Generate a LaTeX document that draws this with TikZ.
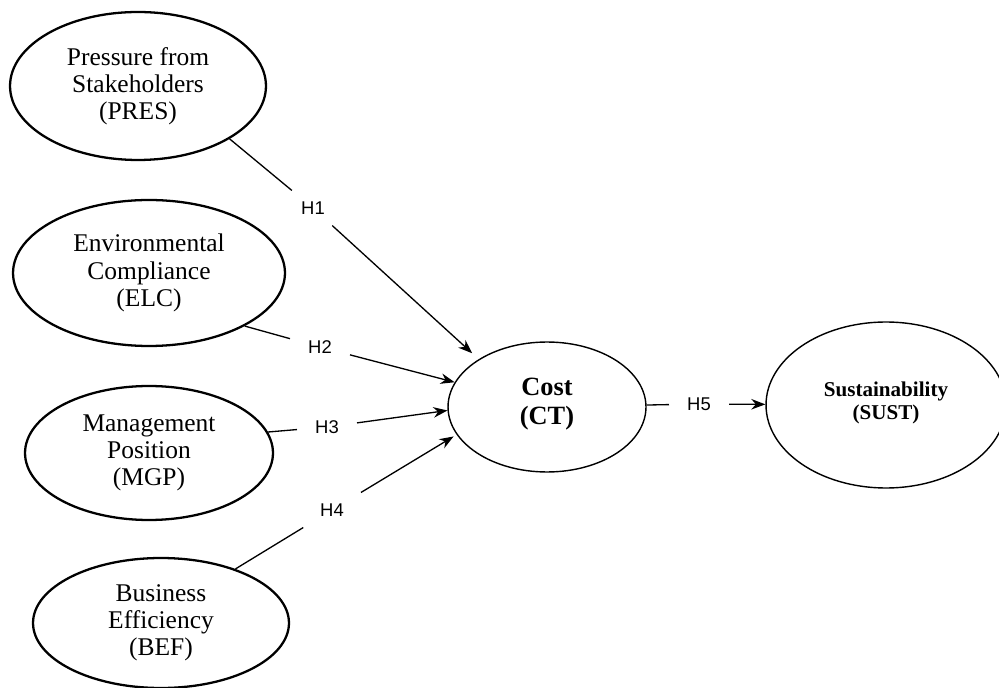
\documentclass[tikz,border=0pt]{standalone}
\usepackage{fontspec}
\setmainfont{Liberation Serif}
\setsansfont{Liberation Sans}
\usetikzlibrary{shapes.geometric, arrows.meta}
\tikzset{>={Stealth[length=8pt,width=6pt]}}
\tikzset{
  factor/.style={ellipse, draw, line width=1.3pt, align=center, font=\fontsize{14.5}{15.5}\selectfont},
  outcome/.style={ellipse, draw, line width=0.8pt, align=center},
  hyp/.style={font=\sffamily\fontsize{10.5}{12}\selectfont, inner xsep=10pt, inner ysep=6pt},
}

\begin{document}
\begin{tikzpicture}[x=0.02cm, y=-0.02cm, line width=0.75pt]
\useasboundingbox (0,0) rectangle (999,688);
\node[factor, minimum width=5.12cm, minimum height=2.96cm] (pres) at (138,86) {Pressure from\\Stakeholders\\(PRES)};
\node[factor, minimum width=5.44cm, minimum height=2.92cm] (elc) at (149,273) {Environmental\\Compliance\\(ELC)};
\node[factor, minimum width=4.96cm, minimum height=2.68cm] (mgp) at (149,453) {Management\\Position\\(MGP)};
\node[factor, minimum width=5.12cm, minimum height=2.60cm] (bef) at (161,623) {Business\\Efficiency\\(BEF)};
\node[outcome, minimum width=3.96cm, minimum height=2.60cm, font=\bfseries\fontsize{15}{16.5}\selectfont] (ct) at (547,407) {Cost\\(CT)\\[-9.7pt]};
\node[outcome, minimum width=4.80cm, minimum height=3.32cm, font=\bfseries\fontsize{12}{13.3}\selectfont] (sust) at (886,405) {Sustainability\\(SUST)\\[-8.7pt]};
\node[hyp] (h1) at (313,208) {H1};
\node[hyp] (h2) at (320,347) {H2};
\node[hyp] (h3) at (327,427) {H3};
\node[hyp] (h4) at (332,510) {H4};
\node[hyp] (h5) at (699,404) {H5};
% hypotheses
\draw (pres.-30) -- (h1);
\draw[->, shorten >=5pt] (h1) -- (ct.145);
\draw (elc.-29) -- (h2);
\draw[->] (h2) -- (ct.165);
\draw (mgp.10) -- (h3);
\draw[->] (h3) -- (ct.182);
\draw (bef.36) -- (h4);
\draw[->, shorten >=2pt] (h4) -- (ct.197);
\draw (ct) -- (h5);
\draw[->] (h5) -- (sust);
\end{tikzpicture}
\end{document}
